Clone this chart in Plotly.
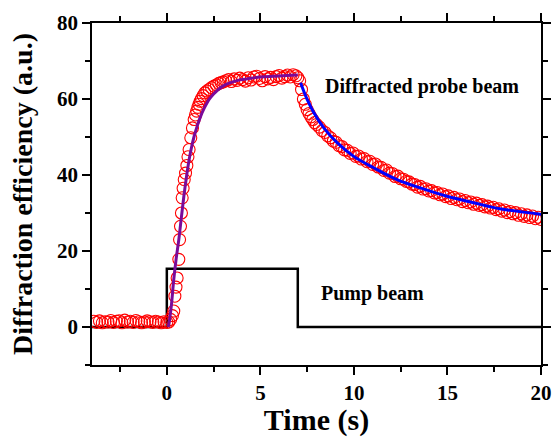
import plotly.graph_objects as go

# Measured diffracted probe signal (circles)
data_t = [-3.9, -3.75, -3.6, -3.45, -3.3, -3.15, -3.0, -2.85, -2.7, -2.55, -2.4, -2.25, -2.1, -1.95,
          -1.8, -1.65, -1.5, -1.35, -1.2, -1.05, -0.9, -0.75, -0.6, -0.45, -0.3, -0.15, 0.0, 0.1,
          0.2, 0.3, 0.37, 0.43, 0.49, 0.55, 0.64, 0.68, 0.73, 0.78, 0.82, 0.87, 0.93, 1.0, 1.07, 1.13,
          1.19, 1.28, 1.37, 1.46, 1.53, 1.6, 1.66, 1.72, 1.78, 1.85, 1.94, 2.03, 2.14, 2.26, 2.39, 2.52,
          2.65, 2.78, 2.9, 3.02, 3.15, 3.3, 3.45, 3.6, 3.75, 3.9, 4.05, 4.2, 4.35, 4.5, 4.65, 4.8,
          4.95, 5.1, 5.25, 5.4, 5.55, 5.7, 5.85, 6.0, 6.15, 6.3, 6.45, 6.6, 6.75, 6.9, 7.0,
          7.1, 7.2, 7.3, 7.4, 7.5, 7.6, 7.7, 7.8, 7.9, 8.0, 8.15, 8.3, 8.45, 8.6, 8.75, 8.9, 9.05,
          9.2, 9.35, 9.5, 9.65, 9.8, 9.95, 10.1, 10.25, 10.4, 10.55, 10.7, 10.85, 11.0, 11.15, 11.3,
          11.45, 11.6, 11.75, 11.9, 12.05, 12.2, 12.35, 12.5, 12.65, 12.8, 12.95, 13.1, 13.25, 13.4,
          13.55, 13.7, 13.85, 14.0, 14.15, 14.3, 14.45, 14.6, 14.75, 14.9, 15.05, 15.2, 15.35, 15.5,
          15.65, 15.8, 15.95, 16.1, 16.25, 16.4, 16.55, 16.7, 16.85, 17.0, 17.15, 17.3, 17.45, 17.6,
          17.75, 17.9, 18.05, 18.2, 18.35, 18.5, 18.65, 18.8, 18.95, 19.1, 19.25, 19.4, 19.55, 19.7,
          19.85, 20.0]
data_v = [1.5, 1.2, 1.6, 1.1, 1.4, 1.3, 1.7, 1.2, 1.5, 1.6, 1.1, 1.8, 1.3, 1.5,
          1.2, 1.7, 1.4, 1.1, 1.3, 1.6, 1.4, 1.2, 1.5, 1.3, 1.1, 1.4, 1.2, 1.3,
          2.0, 3.0, 4.2, 8.1, 10.5, 12.9, 17.8, 23.0, 26.5, 30.0, 34.0, 36.5, 38.8, 40.5, 42.5, 44.8,
          46.7, 49.8, 52.4, 54.6, 55.8, 56.8, 57.8, 58.6, 59.4, 60.1, 60.9, 61.6, 62.1, 62.5, 63.0, 63.4,
          63.7, 64.1, 64.3, 64.5, 64.8, 65.1, 64.6, 65.3, 64.9, 65.5, 65.1, 64.7, 65.6, 65.0, 65.8,
          66.0, 65.4, 64.8, 65.9, 65.3, 65.7, 65.1, 65.9, 66.2, 65.5, 65.9, 66.3, 65.8, 66.4, 66.1, 65.6,
          64.8, 62.5, 60.0, 58.6, 57.2, 56.2, 55.3, 54.6, 53.8, 53.3, 52.6, 51.7, 51.2, 50.3, 49.8, 48.9, 48.6,
          47.7, 47.5, 46.6, 46.5, 45.7, 45.8, 44.9, 45.0, 44.2, 44.3, 43.5, 43.6, 42.8, 42.9, 42.1,
          42.0, 41.2, 41.3, 40.5, 40.4, 39.6, 39.7, 39.0, 38.9, 38.3, 38.2, 37.6, 37.5, 36.8,
          37.0, 36.3, 36.4, 35.8, 35.9, 35.3, 35.4, 34.8, 35.0, 34.3, 34.5, 33.8, 34.1, 33.5,
          33.7, 33.0, 33.3, 32.7, 32.9, 32.3, 32.6, 32.0, 32.2, 31.6, 31.8, 31.3, 31.5, 30.9,
          31.1, 30.5, 30.8, 30.1, 30.4, 29.8, 30.1, 29.4, 29.8, 29.1, 29.5, 28.8, 29.2, 28.5,
          28.9, 28.3]

# Rise fit (purple)
rise_t = [0.08, 0.15, 0.25, 0.37, 0.5, 0.64, 0.78, 0.91, 1.03, 1.19, 1.32, 1.46, 1.63, 1.81, 2.0,
          2.26, 2.5, 2.7, 3.0, 3.41, 3.8, 4.3, 5.0, 5.7, 6.4, 7.0]
rise_v = [0.0, 2.0, 6.0, 12.5, 18.0, 23.0, 29.0, 34.4, 38.8, 44.0, 47.3, 50.2, 53.0, 55.5, 57.6,
          59.9, 61.3, 62.3, 63.4, 64.3, 64.9, 65.3, 65.8, 66.0, 66.2, 66.3]

# Decay fit (blue)
decay_t = [7.15, 7.5, 7.86, 8.39, 9.1, 9.99, 11.06, 12.3, 13.55, 14.97, 16.4, 17.8, 19.77, 20.0]
decay_v = [64.3, 59.9, 56.4, 52.4, 48.5, 44.9, 41.9, 38.8, 36.6, 34.4, 32.7, 31.1, 29.8, 29.6]

# Pump beam (black step)
pump_t = [-4, 0, 0, 7, 7, 20]
pump_v = [0, 0, 15.3, 15.3, 0, 0]

FONT = "Liberation Serif, Times New Roman, serif"

fig = go.Figure()
fig.add_trace(go.Scatter(x=pump_t, y=pump_v, mode="lines",
                         line=dict(color="black", width=2.5), showlegend=False))
fig.add_trace(go.Scatter(x=data_t, y=data_v, mode="markers",
                         marker=dict(symbol="circle-open", size=12, color="red",
                                     line=dict(width=1.1, color="red")),
                         showlegend=False))
fig.add_trace(go.Scatter(x=rise_t, y=rise_v, mode="lines", line_shape="spline",
                         line=dict(color="#7a0a9a", width=3), showlegend=False))
fig.add_trace(go.Scatter(x=decay_t, y=decay_v, mode="lines", line_shape="spline",
                         line=dict(color="#0000ff", width=3), showlegend=False))

fig.add_annotation(x=13.64, y=63.4, text="Diffracted probe beam", showarrow=False,
                   font=dict(family=FONT, size=20, color="black", weight="bold"))
fig.add_annotation(x=10.97, y=8.7, text="Pump beam", showarrow=False,
                   font=dict(family=FONT, size=20, color="black", weight="bold"))

axis_common = dict(showgrid=False, zeroline=False, showline=True, linecolor="black",
                   linewidth=1.5, mirror="ticks", ticks="outside", ticklen=8, tickwidth=1.5,
                   tickcolor="black", automargin=False,
                   tickfont=dict(family=FONT, size=21, color="black", weight="bold"))

fig.update_xaxes(range=[-4, 20], tick0=0, dtick=5,
                 minor=dict(dtick=2.5, ticks="outside", ticklen=5, tickwidth=1.5, tickcolor="black"),
                 title=dict(text="Time (s)", standoff=13,
                            font=dict(family=FONT, size=30, color="black", weight="bold")),
                 **axis_common)
fig.update_yaxes(range=[-10, 80], tick0=0, dtick=20,
                 minor=dict(dtick=10, ticks="outside", ticklen=5, tickwidth=1.5, tickcolor="black"),
                 title=dict(text="Diffraction efficiency (a.u.)", standoff=16,
                            font=dict(family=FONT, size=28, color="black", weight="bold")),
                 **axis_common)

fig.update_layout(width=553, height=437, margin=dict(l=92, r=12, t=23, b=72),
                  plot_bgcolor="white", paper_bgcolor="white")

fig.write_html("out.html", config={"displayModeBar": False},
               post_script="document.body.style.margin='0px';document.body.style.overflow='hidden';")
